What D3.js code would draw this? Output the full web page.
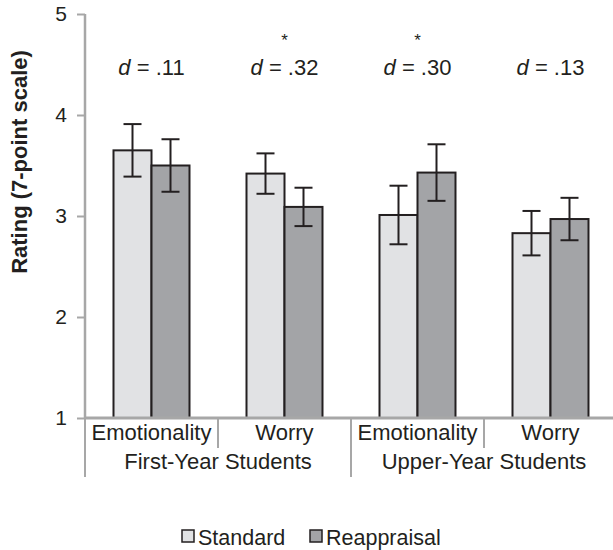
<!DOCTYPE html>
<html>
<head>
<meta charset="utf-8">
<script src="https://cdn.jsdelivr.net/npm/d3@7"></script>
<style>
  html, body { margin: 0; padding: 0; background: #fff; }
  svg { display: block; font-family: "Liberation Sans", Arial, Helvetica, sans-serif; }
</style>
</head>
<body>
<svg id="chart" width="613" height="550"></svg>
<script>
// ---- data ----
const groups = ["First-Year Students", "Upper-Year Students"];
const measures = ["Emotionality", "Worry"];
const series = ["Standard", "Reappraisal"];
const standardMean = [3.65, 3.42, 3.01, 2.83];
const standardErr  = [0.26, 0.20, 0.29, 0.22];
const reappMean    = [3.50, 3.09, 3.43, 2.97];
const reappErr     = [0.26, 0.19, 0.28, 0.21];
const effectLabels = [".11", ".32", ".30", ".13"];
const significant  = [false, true, true, false];
const yTicks = [1, 2, 3, 4, 5];

(function () {
const categories = [];
groups.forEach(g => measures.forEach(m => categories.push({ group: g, measure: m, key: g + "|" + m })));

const svg = d3.select("#chart");
const textColor = "#231f20";
const axisColor = "#a7a7a7";
const fills = { "Standard": "#e1e2e4", "Reappraisal": "#a3a4a7" };

const pL = 85, pR = 617, pT = 14, pB = 418;
const y = d3.scaleLinear().domain([1, 5]).range([pB, pT]);
const x0 = d3.scaleBand().domain(categories.map(c => c.key)).range([pL, pR]).padding(0);
const bw = x0.bandwidth();
const x1 = d3.scaleBand().domain(series).range([bw * 0.2143, bw * 0.7857]).padding(0);
const xg = d3.scaleBand().domain(groups).range([pL, pR]).padding(0);

// ---- y axis ----
const yAxis = d3.axisLeft(y).tickValues(yTicks).tickSize(8).tickPadding(10).tickFormat(d3.format("d"));
const gy = svg.append("g").attr("transform", `translate(${pL},0)`).call(yAxis);
gy.select(".domain").attr("stroke", axisColor).attr("stroke-width", 2.5).attr("d", `M0,${pT}V${pB}`);
gy.selectAll(".tick line").attr("stroke", axisColor).attr("stroke-width", 2);
gy.selectAll(".tick text").attr("fill", textColor).attr("font-size", 21).attr("font-family", "Liberation Sans, Arial, sans-serif");

// ---- bars ----
const rows = categories.map((c, i) => ({
  key: c.key,
  vals: [
    { s: "Standard", m: standardMean[i], e: standardErr[i] },
    { s: "Reappraisal", m: reappMean[i], e: reappErr[i] }
  ]
}));

const cat = svg.append("g").selectAll("g").data(rows).join("g")
  .attr("transform", d => `translate(${x0(d.key)},0)`);

cat.selectAll("rect").data(d => d.vals).join("rect")
  .attr("x", d => x1(d.s))
  .attr("width", x1.bandwidth())
  .attr("y", d => y(d.m))
  .attr("height", d => y(1) - y(d.m))
  .attr("fill", d => fills[d.s])
  .attr("stroke", textColor)
  .attr("stroke-width", 2);

// ---- x axis line ----
svg.append("line").attr("x1", pL).attr("x2", 613).attr("y1", pB).attr("y2", pB)
  .attr("stroke", axisColor).attr("stroke-width", 3);

// ---- error bars ----
const capW = 9;
const eb = cat.selectAll("g.err").data(d => d.vals).join("g").attr("class", "err")
  .attr("stroke", textColor).attr("stroke-width", 2);
eb.append("line")
  .attr("x1", d => x1(d.s) + x1.bandwidth() / 2).attr("x2", d => x1(d.s) + x1.bandwidth() / 2)
  .attr("y1", d => y(d.m + d.e)).attr("y2", d => y(d.m - d.e));
eb.append("line")
  .attr("x1", d => x1(d.s) + x1.bandwidth() / 2 - capW).attr("x2", d => x1(d.s) + x1.bandwidth() / 2 + capW)
  .attr("y1", d => y(d.m + d.e)).attr("y2", d => y(d.m + d.e));
eb.append("line")
  .attr("x1", d => x1(d.s) + x1.bandwidth() / 2 - capW).attr("x2", d => x1(d.s) + x1.bandwidth() / 2 + capW)
  .attr("y1", d => y(d.m - d.e)).attr("y2", d => y(d.m - d.e));

// ---- effect size labels ----
const dl = svg.append("g").selectAll("text").data(categories).join("text")
  .attr("x", d => x0(d.key) + bw / 2)
  .attr("y", 75)
  .attr("text-anchor", "middle")
  .attr("font-size", 22)
  .attr("fill", textColor);
dl.append("tspan").attr("font-style", "italic").text("d");
dl.append("tspan").text((d, i) => " = " + effectLabels[i]);

svg.append("g").selectAll("text").data(categories.filter((d, i) => significant[i])).join("text")
  .attr("x", d => x0(d.key) + bw / 2)
  .attr("y", 46)
  .attr("text-anchor", "middle")
  .attr("font-size", 17)
  .attr("fill", textColor)
  .text("*");

// ---- category labels & separators ----
svg.append("g").selectAll("text").data(categories).join("text")
  .attr("x", d => x0(d.key) + bw / 2)
  .attr("y", 440)
  .attr("text-anchor", "middle")
  .attr("font-size", 22)
  .attr("fill", textColor)
  .text(d => d.measure);

svg.append("g").selectAll("text").data(groups).join("text")
  .attr("x", d => xg(d) + xg.bandwidth() / 2)
  .attr("y", 469)
  .attr("text-anchor", "middle")
  .attr("font-size", 22)
  .attr("fill", textColor)
  .text(d => d);

const sepShort = categories.filter(c => c.measure !== measures[0]).map(c => x0(c.key));
svg.append("g").selectAll("line").data(sepShort).join("line")
  .attr("x1", d => d).attr("x2", d => d).attr("y1", pB).attr("y2", 448)
  .attr("stroke", axisColor).attr("stroke-width", 2);
const sepLong = groups.map(g => xg(g));
svg.append("g").selectAll("line").data(sepLong).join("line")
  .attr("x1", d => d).attr("x2", d => d).attr("y1", pB).attr("y2", 477)
  .attr("stroke", axisColor).attr("stroke-width", 2);

// ---- y title ----
svg.append("text")
  .attr("transform", "translate(27,162) rotate(-90)")
  .attr("text-anchor", "middle")
  .attr("font-size", 22)
  .attr("font-weight", "bold")
  .attr("fill", textColor)
  .text("Rating (7-point scale)");

// ---- legend ----
const legendX = [182, 310];
const lg = svg.append("g").selectAll("g").data(series).join("g")
  .attr("transform", (d, i) => `translate(${legendX[i]},530)`);
lg.append("rect").attr("width", 12).attr("height", 12)
  .attr("fill", d => fills[d]).attr("stroke", textColor).attr("stroke-width", 1.5);
lg.append("text").attr("x", 16).attr("y", 14.5)
  .attr("font-size", 21.5).attr("fill", textColor).text(d => d);
})();
</script>
</body>
</html>
